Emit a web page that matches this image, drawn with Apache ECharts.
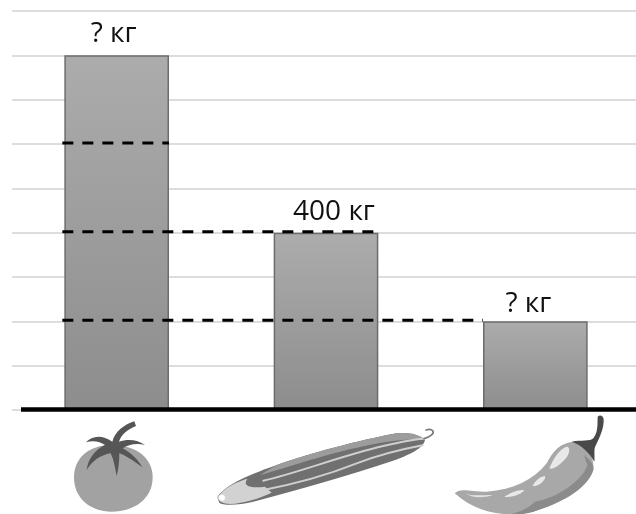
<!DOCTYPE html>
<html>
<head>
<meta charset="utf-8">
<style>
    html, body { margin: 0; padding: 0; background: #fff; }
    #chart { width: 636px; height: 514px; overflow: hidden; }
</style>
<script src="https://cdn.jsdelivr.net/npm/echarts@6/dist/echarts.min.js"></script>
</head>
<body>
<div id="chart"></div>
<script>
    var categories = ['Помидоры', 'Огурцы', 'Перец'];
    var values = [800, 400, 200];
    var valueLabels = ['? кг', '400 кг', '? кг'];
    var labelShift = [[-3, 0], [8, 0], [-7, 4]];
    // dashed helper lines: level, and the bar they run to (side: 1 right edge, -1 left edge)
    var dashLevels = [600, 400, 200];
    var dashToBar = [0, 1, 2];
    var dashToSide = [1, 1, -1];

    var BAR_SHARE = 0.5;

    var myEcharts = echarts.init(document.getElementById('chart'), null, { renderer: 'canvas' });

    function p(d, fill) {
        return '<path d="' + d + '" fill="' + fill + '"/>';
    }
    function s(d, stroke, w) {
        return '<path d="' + d + '" fill="none" stroke="' + stroke + '" stroke-width="' + w + '" stroke-linecap="round"/>';
    }

    // pictures traced at 3x, the strip under the axis (y 390 to 514)
    var stripSvg = '<svg xmlns="http://www.w3.org/2000/svg" width="1908" height="372" viewBox="0 0 1908 372">'
        + '<defs><filter id="b"><feGaussianBlur stdDeviation="1.8"/></filter></defs><g filter="url(#b)">'
        // tomato
        + p('M222 262 C222 205 265 165 335 165 C410 165 458 205 458 262 C458 325 405 365 335 365 C270 365 222 325 222 262 Z', '#a2a2a2')
        + p('M403 94 L408 108 C385 118 365 130 357 155 C385 145 415 150 435 165 C410 158 385 163 368 175 C395 190 415 210 427 232 C400 212 375 195 358 190 C358 215 355 240 350 258 C345 235 342 210 332 190 C300 195 275 215 260 240 C265 205 285 180 315 165 C300 155 280 150 258 157 C275 138 305 132 337 155 C345 125 370 105 403 94 Z', '#565656')
        // cucumber, traced with its own origin
        + '<g transform="translate(630,90)">'
        + p('M22 232 C40 200 100 170 200 135 C300 100 450 60 560 40 C600 36 630 45 645 60 C640 85 600 105 540 125 C420 165 280 205 130 245 C90 255 40 258 28 248 Z', '#707070')
        + p('M200 135 C300 100 450 60 560 40 C600 36 630 45 645 60 C560 50 420 85 300 120 C240 138 190 155 150 165 Z', '#9c9c9c')
        + p('M22 232 C40 205 80 185 112 176 C95 200 125 205 165 200 L185 218 C150 235 100 250 60 252 C40 252 25 245 22 232 Z', '#d2d2d2')
        + s('M160 182 C260 160 400 105 520 78 C570 66 610 58 640 56', '#cfcfcf', 6)
        + s('M150 212 C240 195 340 170 440 130 C520 100 590 85 638 76', '#cfcfcf', 6)
        + s('M642 56 C662 50 674 40 668 32 C664 27 655 28 648 30', '#7a7a7a', 5)
        + '<circle cx="36" cy="233" r="9" fill="#fff"/>'
        + '</g>'
        // pepper
        + p('M1364 310 C1380 292 1410 305 1460 305 C1540 300 1600 270 1640 220 C1660 180 1680 160 1720 155 C1760 165 1785 200 1780 240 C1760 300 1680 340 1600 365 C1520 385 1430 370 1364 310 Z', '#a8a8a8')
        + p('M1752 195 C1772 210 1782 225 1780 240 C1760 300 1680 340 1600 365 C1575 372 1550 375 1525 375 C1560 365 1585 355 1605 335 C1670 325 1750 270 1762 225 Z', '#8b8b8b')
        + p('M1715 155 C1745 150 1770 155 1780 145 C1795 125 1792 100 1793 80 C1800 72 1810 78 1811 88 C1812 115 1800 140 1788 165 C1780 175 1785 195 1783 215 C1770 190 1745 165 1715 155 Z', '#484848')
        + p('M1648 235 C1660 205 1680 175 1700 170 C1712 170 1710 190 1695 208 C1680 225 1660 240 1648 235 Z', '#e8e8e8')
        + p('M1598 288 C1605 270 1625 258 1635 258 C1640 268 1615 292 1598 288 Z', '#e8e8e8')
        + p('M1513 320 C1530 308 1555 298 1572 300 C1570 310 1535 325 1513 320 Z', '#e8e8e8')
        + p('M1395 308 C1410 320 1445 315 1478 315 C1450 325 1415 325 1395 308 Z', '#e4e4e4')
        + '</g></svg>';

    var dashData = dashLevels.map(function (v, i) {
        return [dashToBar[i], v, dashToSide[i]];
    });

    var barData = values.map(function (v, i) {
        return {
            value: v,
            label: { formatter: valueLabels[i], offset: labelShift[i] }
        };
    });

    myEcharts.setOption({
        animation: false,
        backgroundColor: '#fff',
        textStyle: { fontFamily: '"Open Sans", sans-serif' },
        // grid runs a few px past the canvas on the right
        grid: { left: 12, right: -4, top: 11, bottom: 104, outerBoundsMode: 'none' },
        xAxis: {
            type: 'category',
            data: categories,
            axisLine: { show: false },
            axisTick: { show: false },
            axisLabel: { show: false }
        },
        yAxis: {
            type: 'value',
            min: 0,
            max: 900,
            interval: 100,
            axisLine: { show: false },
            axisTick: { show: false },
            axisLabel: { show: false },
            splitLine: { lineStyle: { color: '#dddddd', width: 2 } }
        },
        series: [
            {
                type: 'bar',
                data: barData,
                barWidth: (BAR_SHARE * 100) + '%',
                itemStyle: {
                    borderColor: '#6c6c6c',
                    borderWidth: 1.5,
                    color: new echarts.graphic.LinearGradient(0, 0, 0, 1, [
                        { offset: 0, color: '#acacac' },
                        { offset: 1, color: '#8d8d8d' }
                    ])
                },
                label: {
                    show: true,
                    position: 'top',
                    distance: 7,
                    color: '#111',
                    fontSize: 28,
                    fontFamily: '"Open Sans", sans-serif'
                }
            },
            {
                type: 'custom',
                data: dashData,
                z: 5,
                silent: true,
                renderItem: function (params, api) {
                    var band = api.size([1, 0])[0];
                    var half = band * BAR_SHARE / 2;
                    var start = api.coord([0, api.value(1)]);
                    var end = api.coord([api.value(0), api.value(1)]);
                    return {
                        type: 'line',
                        shape: {
                            x1: start[0] - half - 2,
                            y1: start[1] - 1,
                            x2: end[0] + api.value(2) * half,
                            y2: end[1] - 1
                        },
                        style: { stroke: '#000', lineWidth: 3, lineDash: [11, 9] }
                    };
                }
            }
        ],
        graphic: {
            elements: [
                {
                    type: 'image',
                    silent: true,
                    style: {
                        image: 'data:image/svg+xml;charset=utf-8,' + encodeURIComponent(stripSvg),
                        x: 0, y: 390, width: 636, height: 124
                    }
                },
                // thick baseline, starts a little right of the grid lines
                {
                    type: 'line',
                    silent: true,
                    z: 10,
                    shape: { x1: 21, y1: 409.5, x2: 636, y2: 409.5 },
                    style: { stroke: '#000', lineWidth: 4.5 }
                }
            ]
        }
    });
</script>
</body>
</html>
